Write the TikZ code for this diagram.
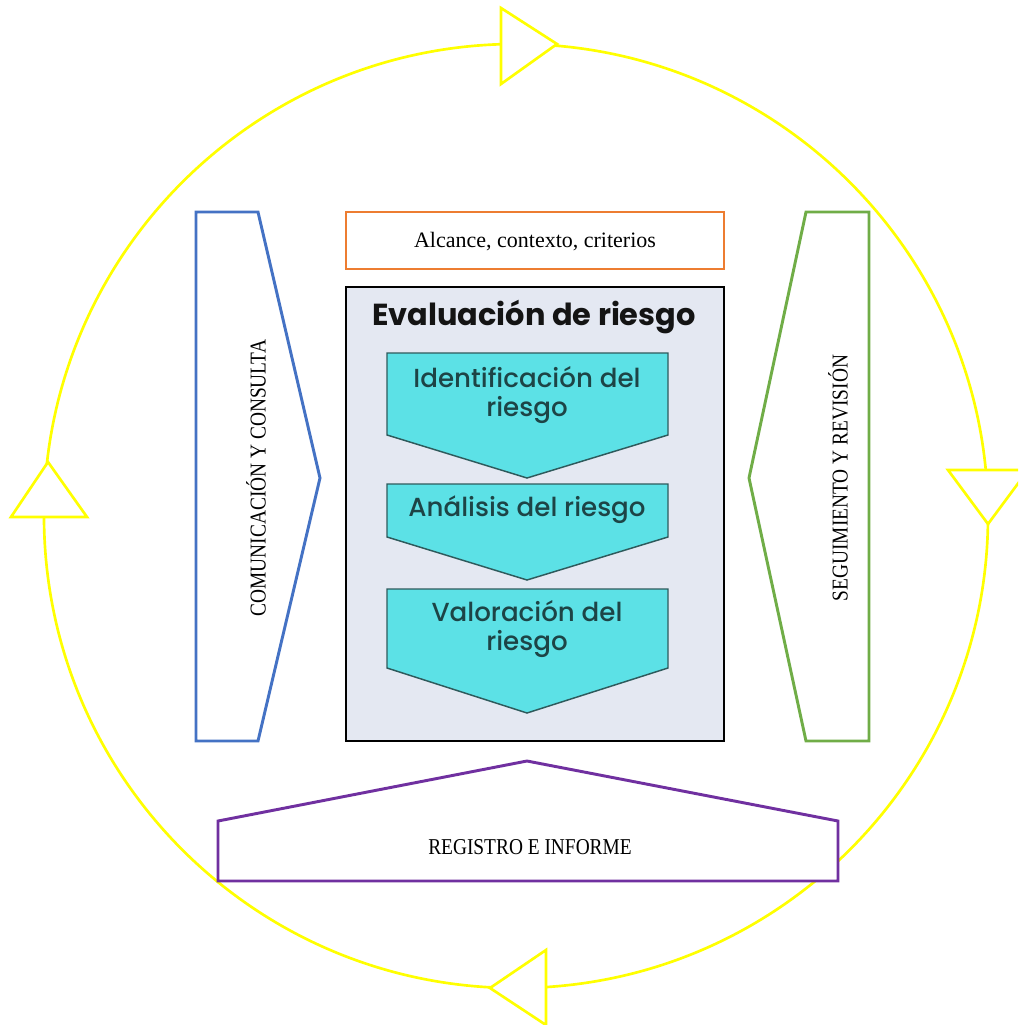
\documentclass[tikz,border=0pt]{standalone}
\usepackage{fontspec}
\setmainfont{Liberation Serif}
\newfontfamily\popfont{Poppins}[UprightFont=* Medium]
\newfontfamily\popbold{Poppins}[UprightFont=* Bold]
\definecolor{cyc}{HTML}{FFFF00}
\definecolor{blu}{HTML}{4472C4}
\definecolor{org}{HTML}{ED7D31}
\definecolor{grn}{HTML}{70AD47}
\definecolor{pur}{HTML}{7030A0}
\definecolor{evbg}{HTML}{E4E8F2}
\definecolor{chev}{HTML}{5CE1E6}
\definecolor{chevline}{HTML}{2E5A5C}
\definecolor{chevtext}{HTML}{1D4446}
\newcommand{\narrowtxt}[1]{\scalebox{0.855}[1]{#1}}
\tikzset{
  cycline/.style={draw=cyc, line width=2pt},
  tri/.style={draw=cyc, line width=2pt, fill=white, line join=miter},
  shapeline/.style={line width=2.2pt, fill=white, line join=miter},
  chevshape/.style={draw=chevline, line width=1.1pt, fill=chev, line join=miter},
  lbl/.style={inner sep=0pt, font=\fontsize{17}{20}\selectfont},
  chevlbl/.style={inner sep=0pt, text=chevtext, font=\popfont\fontsize{19.6}{21.5}\selectfont},
}
\begin{document}
\begin{tikzpicture}[x=0.75pt,y=-0.75pt]
\useasboundingbox (0,0) rectangle (1018,1025);
\clip (0,0) rectangle (1018,1025);
% cycle
\draw[cycline] (516,516) circle (472);
\draw[tri] (501,8) -- (557,44) -- (501,84) -- cycle;
\draw[tri] (11,517) -- (48,462) -- (87,517) -- cycle;
\draw[tri] (948,470) -- (1028,470) -- (988,524) -- cycle;
\draw[tri] (546,950) -- (546,1025) -- (490,988) -- cycle;
% left pentagon
\draw[shapeline, draw=blu] (196,212) -- (258,212) -- (320,478) -- (258,741) -- (196,741) -- cycle;
\node[lbl, rotate=90] (com) at (256,478) {\narrowtxt{COMUNICACIÓN Y CONSULTA}};
% right pentagon
\draw[shapeline, draw=grn] (869,212) -- (806,212) -- (749,478) -- (806,741) -- (869,741) -- cycle;
\node[lbl, rotate=90] (seg) at (838,478) {\narrowtxt{SEGUIMIENTO Y REVISIÓN}};
% bottom pentagon
\draw[shapeline, draw=pur] (218,881) -- (218,821) -- (527,761) -- (838,821) -- (838,881) -- cycle;
\node[lbl] (reg) at (530,847) {\narrowtxt{REGISTRO E INFORME}};
% orange box
\draw[shapeline, draw=org] (346,212) rectangle (724,269);
\node[lbl, font=\fontsize{16.5}{19}\selectfont] (alc) at (535,242) {Alcance, contexto, criterios};
% evaluation box
\draw[line width=1.5pt, draw=black, fill=evbg] (346,287) rectangle (724,741);
\node[inner sep=0pt, text=black!92, font=\popbold\fontsize{22.8}{26}\selectfont] (ev) at (534,317) {Evaluación de riesgo};
\draw[chevshape] (387,353) -- (668,353) -- (668,435) -- (527,478) -- (387,435) -- cycle;
\node[chevlbl, align=center] (id) at (527,395) {Identificación del\\riesgo};
\draw[chevshape] (387,484) -- (668,484) -- (668,537) -- (527,580) -- (387,537) -- cycle;
\node[chevlbl] (an) at (527,510) {Análisis del riesgo};
\draw[chevshape] (387,589) -- (668,589) -- (668,668) -- (527,713) -- (387,668) -- cycle;
\node[chevlbl, align=center] (val) at (527,629) {Valoración del\\riesgo};
\end{tikzpicture}
\end{document}
